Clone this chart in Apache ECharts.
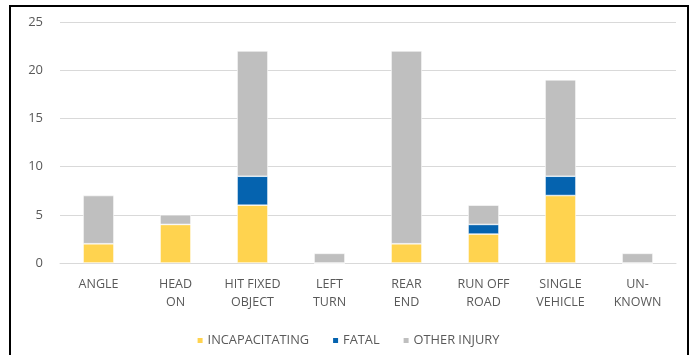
<!DOCTYPE html>
<html>
<head>
<meta charset="utf-8">
<script src="https://cdn.jsdelivr.net/npm/echarts@6/dist/echarts.min.js"></script>
<style>
html,body{margin:0;padding:0;background:#fff;}
#chart{width:695px;height:355px;}
</style>
</head>
<body>
<div id="chart"></div>
<script>
const categories = ['ANGLE', 'HEAD\nON', 'HIT FIXED\nOBJECT', 'LEFT\nTURN', 'REAR\nEND', 'RUN OFF\nROAD', 'SINGLE\nVEHICLE', 'UN-\nKNOWN'];
const incapacitating = [2, 4, 6, 0, 2, 3, 7, 0];
const fatal = [0, 0, 3, 0, 0, 1, 2, 0];
const otherInjury = [5, 1, 13, 1, 20, 2, 10, 1];
const seriesNames = ['INCAPACITATING', 'FATAL', 'OTHER INJURY'];
const colors = ['#FFD34F', '#0563AF', '#BFBFBF'];

const chart = echarts.init(document.getElementById('chart'), null, {renderer: 'canvas'});
const font = 'Open Sans';
const mk = (name, data, color) => ({
  name, type: 'bar', stack: 'total', data,
  barWidth: '40%',
  itemStyle: {color, borderColor: '#ffffff', borderWidth: 0.6},
  emphasis: {disabled: true}
});
chart.setOption({
  animation: false,
  color: colors,
  textStyle: {fontFamily: font},
  grid: {left: 60, right: 19, top: 22, bottom: 92, containLabel: false},
  graphic: [{
    type: 'rect', silent: true, z: 100,
    shape: {x: 10, y: 6, width: 678, height: 360},
    style: {fill: 'none', stroke: '#000', lineWidth: 2}
  }],
  legend: {
    bottom: 3, left: 'center',
    itemWidth: 7, itemHeight: 7, itemGap: 22,
    icon: 'rect',
    textStyle: {fontFamily: font, fontSize: 12.8, color: '#595959', padding: [0, 0, 0, -1]},
    data: seriesNames
  },
  xAxis: {
    type: 'category', data: categories,
    axisLine: {show: true, lineStyle: {color: '#D9D9D9', width: 1}},
    axisTick: {show: false},
    axisLabel: {fontFamily: font, fontSize: 12.5, color: '#595959', lineHeight: 18, margin: 12, interval: 0}
  },
  yAxis: {
    type: 'value', min: 0, max: 25, interval: 5,
    axisLine: {show: false}, axisTick: {show: false},
    splitLine: {lineStyle: {color: '#D9D9D9', width: 1}},
    axisLabel: {fontFamily: font, fontSize: 13, color: '#595959', margin: 17}
  },
  series: [
    mk(seriesNames[0], incapacitating, colors[0]),
    mk(seriesNames[1], fatal, colors[1]),
    mk(seriesNames[2], otherInjury, colors[2])
  ]
});
</script>
</body>
</html>
